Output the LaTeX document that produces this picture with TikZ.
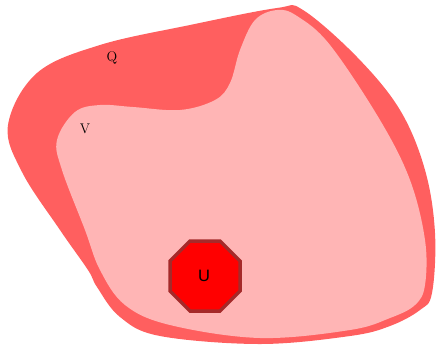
\documentclass[tikz,border=0pt]{standalone}
\usepackage{fontspec}
\newfontfamily\sansU{Liberation Sans}
\definecolor{qred}{HTML}{FF5F5F}
\definecolor{vpink}{HTML}{FFB5B5}
\definecolor{ured}{HTML}{FF0000}
\definecolor{uedge}{HTML}{A52A2A}
\begin{document}
\begin{tikzpicture}[x=1pt,y=-1pt,
  lab/.style={font=\fontsize{14}{16}\selectfont, text=black},
  ulab/.style={font=\sansU\fontsize{16.5}{18}\selectfont, text=black}]
\useasboundingbox (0,0) rectangle (436,346);
% Q region
\fill[qred] plot[smooth cycle, tension=0.6] coordinates {
  (8,125) (37,73) (100,45) (190,25) (277,8) (303,10) (357,57) (400,110) (425,170)
  (435,233) (432,293) (420,310) (390,326) (350,336) (260,344) (160,336) (120,317)
  (97,287) (88,270) (60,230) (22,172)};
% V region
\fill[vpink] plot[smooth cycle, tension=0.6] coordinates {
  (57,140) (75,112) (100,105) (133,107) (180,110) (215,100) (230,83) (240,50)
  (255,20) (277,10) (297,16) (330,45) (380,120) (410,180) (425,240) (425,285)
  (415,305) (390,318) (350,330) (260,338) (170,325) (125,305) (100,270) (85,230) (62,170)};
% U octagon
\fill[ured, draw=uedge, line width=3.5pt, line join=miter]
  (190,241) -- (220,241) -- (240,261) -- (240,291) -- (220,311) -- (190,311) -- (170,291) -- (170,261) -- cycle;
\node[lab] (Q) at (112,58) {Q};
\node[lab] (V) at (85,129) {V};
\node[ulab] (U) at (204,276) {U};
\end{tikzpicture}
\end{document}
